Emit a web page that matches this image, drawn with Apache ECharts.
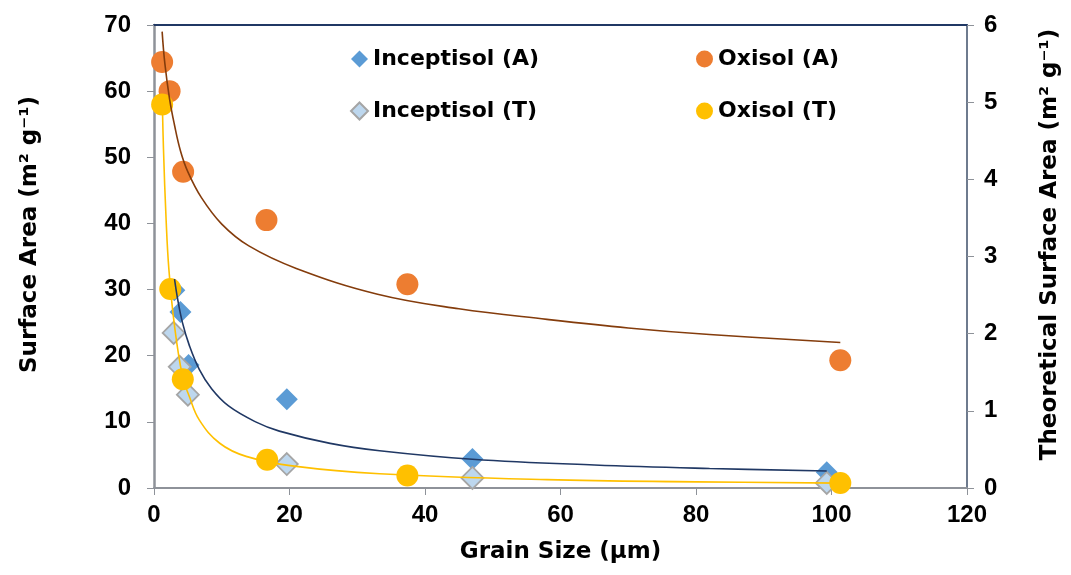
<!DOCTYPE html>
<html>
<head>
<meta charset="utf-8">
<script src="https://cdn.jsdelivr.net/npm/echarts@6/dist/echarts.min.js"></script>
<style>
  html, body { margin: 0; padding: 0; background: #fff; }
  #chart { width: 1071px; height: 575px; }
</style>
</head>
<body>
<div id="chart"></div>
<script>
// ---- Data ----
const xTicks = [0, 20, 40, 60, 80, 100, 120];
const leftTicks = [0, 10, 20, 30, 40, 50, 60, 70];
const rightTicks = [0, 1, 2, 3, 4, 5, 6];

// Measured surface area (left axis, m2 g-1)
const inceptisolA_x = [3.0, 3.9, 5.1, 19.6, 47.0, 99.3];
const inceptisolA_y = [29.9, 26.6, 18.6, 13.4, 4.4, 2.4];
const oxisolA_x = [1.2, 2.3, 4.3, 16.6, 37.4, 101.3];
const oxisolA_y = [64.4, 60.0, 47.8, 40.5, 30.8, 19.3];

// Theoretical surface area (right axis, m2 g-1)
const inceptisolT_x = [2.9, 3.8, 5.0, 19.6, 47.0, 99.3];
const inceptisolT_y = [2.01, 1.57, 1.21, 0.31, 0.13, 0.065];
const oxisolT_x = [1.2, 2.4, 4.25, 16.7, 37.4, 101.3];
const oxisolT_y = [4.97, 2.58, 1.41, 0.367, 0.163, 0.065];

// Trend lines
const trendOxA_x = [1.2, 1.6, 2.3, 3.0, 3.9, 5.0, 7.0, 10, 14, 21, 33, 45, 58, 70, 82, 101.3];
const trendOxA_y = [69.0, 64.2, 58.8, 55.0, 51.0, 47.8, 43.9, 39.9, 36.6, 33.2, 29.3, 27.1, 25.5, 24.2, 23.2, 22.0];
const trendIncA_x = [3.03, 3.5, 4.2, 5.2, 6.7, 8.5, 11, 15, 18.5, 26, 33.3, 47, 65, 82, 99.3];
const trendIncA_y = [31.6, 28.5, 25.0, 21.6, 17.9, 15.0, 12.4, 10.0, 8.6, 6.75, 5.64, 4.35, 3.48, 2.95, 2.57];
const trendOxT_x = [1.2, 1.4, 1.8, 2.2, 3.0, 4.2, 5.2, 6.7, 9.7, 13.6, 21, 33.3, 58, 80, 101.3];
const trendOxT_y = [5.1, 4.39, 3.45, 2.83, 2.12, 1.45, 1.19, 0.88, 0.58, 0.41, 0.28, 0.185, 0.108, 0.08, 0.063];

const zip = (xs, ys) => xs.map((x, i) => [x, ys[i]]);

const FONT = 'DejaVu Sans';
const TICKFONT = 'Liberation Sans';
const chart = echarts.init(document.getElementById('chart'), null, { renderer: 'canvas' });

const labelStyle = { fontFamily: TICKFONT, fontWeight: 'bold', fontSize: 24, color: '#000' };
const titleStyle = { fontFamily: FONT, fontWeight: 'bold', fontSize: 23, color: '#000' };

chart.setOption({
  animation: false,
  backgroundColor: '#fff',
  grid: { left: 154, right: 104, top: 25, bottom: 87, containLabel: false },
  legend: [
    {
      data: ['Inceptisol (A)', 'Inceptisol (T)'],
      orient: 'vertical',
      left: 345, top: 43,
      itemWidth: 17, itemHeight: 17, itemGap: 30,
      textStyle: { fontFamily: FONT, fontWeight: 'bold', fontSize: 22, color: '#000', lineHeight: 22 },
      selectedMode: false
    },
    {
      data: ['Oxisol (A)', 'Oxisol (T)'],
      orient: 'vertical',
      left: 691, top: 43,
      itemWidth: 17, itemHeight: 17, itemGap: 30,
      textStyle: { fontFamily: FONT, fontWeight: 'bold', fontSize: 22, color: '#000', lineHeight: 22 },
      selectedMode: false
    }
  ],
  xAxis: [
    {
      type: 'value', min: xTicks[0], max: xTicks[xTicks.length - 1], interval: 20,
      position: 'bottom',
      name: 'Grain Size (µm)', nameLocation: 'middle', nameGap: 53,
      nameTextStyle: titleStyle,
      axisLine: { show: true, lineStyle: { color: '#8e9299', width: 2 } },
      axisTick: { show: true, inside: false, length: 7, lineStyle: { color: '#8e9299', width: 1 } },
      axisLabel: Object.assign({ margin: 15 }, labelStyle),
      splitLine: { show: false }
    },
    {
      type: 'value', min: xTicks[0], max: xTicks[xTicks.length - 1], interval: 20,
      position: 'top',
      axisLine: { show: true, onZero: false, lineStyle: { color: '#203864', width: 2 } },
      axisTick: { show: false },
      axisLabel: { show: false },
      splitLine: { show: false }
    }
  ],
  yAxis: [
    {
      type: 'value', min: leftTicks[0], max: leftTicks[leftTicks.length - 1], interval: 10,
      position: 'left',
      name: 'Surface Area (m² g⁻¹)', nameLocation: 'middle', nameGap: 112, nameRotate: 90,
      nameTextStyle: Object.assign({ padding: [0, 0, 0, 44] }, titleStyle),
      axisLine: { show: true, onZero: false, lineStyle: { color: '#8e9299', width: 2.5 } },
      axisTick: { show: true, inside: false, length: 7, lineStyle: { color: '#8e9299', width: 1 } },
      axisLabel: Object.assign({ margin: 23 }, labelStyle),
      splitLine: { show: false }
    },
    {
      type: 'value', min: rightTicks[0], max: rightTicks[rightTicks.length - 1], interval: 1,
      position: 'right',
      name: 'Theoretical Surface Area (m² g⁻¹)', nameLocation: 'middle', nameGap: 72, nameRotate: 90,
      nameTextStyle: Object.assign({ padding: [0, 0, 0, 24] }, titleStyle),
      axisLine: { show: true, onZero: false, lineStyle: { color: '#6e7b8e', width: 2 } },
      axisTick: { show: true, inside: false, length: 7, lineStyle: { color: '#8e9299', width: 1 } },
      axisLabel: Object.assign({ margin: 17 }, labelStyle),
      splitLine: { show: false }
    }
  ],
  series: [
    {
      name: 'Inceptisol (A)', type: 'scatter', xAxisIndex: 0, yAxisIndex: 0,
      symbol: 'diamond', symbolSize: 22,
      itemStyle: { color: '#5b9bd5', opacity: 1 },
      data: zip(inceptisolA_x, inceptisolA_y)
    },
    {
      name: 'Oxisol (A)', type: 'scatter', xAxisIndex: 0, yAxisIndex: 0,
      symbol: 'circle', symbolSize: 22,
      itemStyle: { color: '#ed7d31', opacity: 1 },
      data: zip(oxisolA_x, oxisolA_y)
    },
    {
      name: 'Inceptisol (T)', type: 'scatter', xAxisIndex: 0, yAxisIndex: 1,
      symbol: 'diamond', symbolSize: 22,
      itemStyle: { color: '#bdd7ee', borderColor: '#a5a5a5', borderWidth: 1.8, opacity: 1 },
      data: zip(inceptisolT_x, inceptisolT_y)
    },
    {
      name: 'Oxisol (T)', type: 'scatter', xAxisIndex: 0, yAxisIndex: 1,
      symbol: 'circle', symbolSize: 22,
      itemStyle: { color: '#ffc000', opacity: 1 },
      data: zip(oxisolT_x, oxisolT_y)
    },
    {
      name: 'trendIncA', type: 'line', xAxisIndex: 0, yAxisIndex: 0,
      showSymbol: false, smooth: 0.4, silent: true,
      lineStyle: { color: '#203864', width: 1.6 },
      data: zip(trendIncA_x, trendIncA_y)
    },
    {
      name: 'trendOxA', type: 'line', xAxisIndex: 0, yAxisIndex: 0,
      showSymbol: false, smooth: 0.4, silent: true,
      lineStyle: { color: '#843c0c', width: 1.6 },
      data: zip(trendOxA_x, trendOxA_y)
    },
    {
      name: 'trendOxT', type: 'line', xAxisIndex: 0, yAxisIndex: 1,
      showSymbol: false, smooth: 0.4, silent: true,
      lineStyle: { color: '#ffc000', width: 1.6 },
      data: zip(trendOxT_x, trendOxT_y)
    }
  ]
});
</script>
</body>
</html>
